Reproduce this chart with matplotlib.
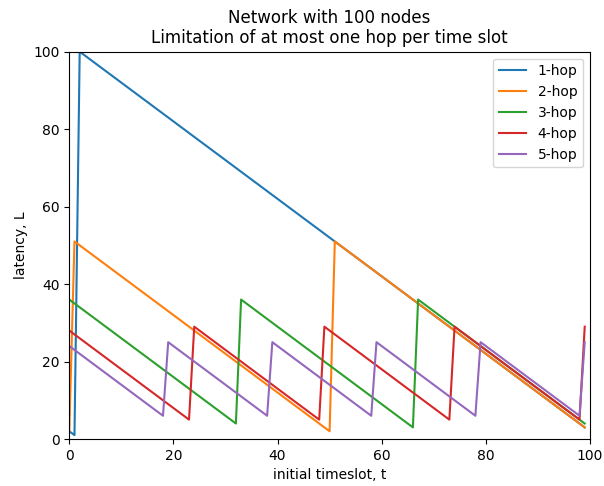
import matplotlib
matplotlib.use("Agg")
import matplotlib.pyplot as plt

# corner points of each sawtooth (initial timeslot, latency)
t1 = [0, 1, 2, 99]
L1 = [2, 1, 100, 3]

t2 = [0, 1, 50, 51, 99]
L2 = [2, 51, 2, 51, 3]

t3 = [0, 32, 33, 66, 67, 99]
L3 = [36, 4, 36, 3, 36, 4]

t4 = [0, 23, 24, 48, 49, 73, 74, 98, 99]
L4 = [28, 5, 29, 5, 29, 5, 29, 5, 29]

t5 = [0, 18, 19, 38, 39, 58, 59, 78, 79, 98, 99]
L5 = [24, 6, 25, 6, 25, 6, 25, 6, 25, 6, 25]

labels = ["1-hop", "2-hop", "3-hop", "4-hop", "5-hop"]

fig = plt.figure(figsize=(6.04, 4.86), dpi=100)
ax = fig.add_axes([0.1147, 0.0967, 0.862, 0.797])

for t, L, lab in zip([t1, t2, t3, t4, t5], [L1, L2, L3, L4, L5], labels):
    ax.plot(t, L, label=lab)

ax.set_xlim(0, 100)
ax.set_ylim(0, 100)
ax.set_xlabel("initial timeslot, t")
ax.set_ylabel("latency, L")
ax.set_title("Network with 100 nodes\nLimitation of at most one hop per time slot")
ax.legend(loc="upper right")

fig.savefig("out.png", dpi=100)
